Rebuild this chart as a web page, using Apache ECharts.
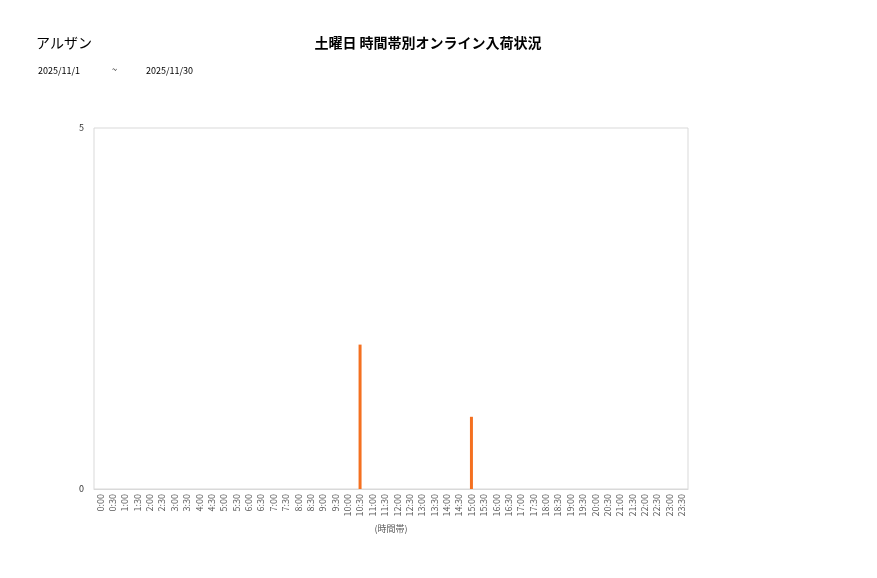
<!DOCTYPE html>
<html><head><meta charset="utf-8">
<script src="https://cdn.jsdelivr.net/npm/echarts@6/dist/echarts.min.js"></script>
<style>html,body{margin:0;padding:0;background:#fff}#c{width:877px;height:578px}</style>
</head><body><div id="c"></div>
<script>
const storeName = 'アルザン';
const chartTitle = '土曜日 時間帯別オンライン入荷状況';
const dateFrom = '2025/11/1';
const dateTo = '2025/11/30';
const categories = [];
for (let h = 0; h < 24; h++) { categories.push(h + ':00'); categories.push(h + ':30'); }
const values = [0,0,0,0,0,0,0,0,0,0,0,0,0,0,0,0,0,0,0,0,0,2,0,0,0,0,0,0,0,0,1,0,0,0,0,0,0,0,0,0,0,0,0,0,0,0,0,0];
const yTicks = [0, 5];

const chart = echarts.init(document.getElementById('c'));
const font = '"Noto Sans CJK JP", "Noto Sans", sans-serif';
chart.setOption({
  animation: false,
  textStyle: { fontFamily: font },
  title: [
    { text: storeName, left: 36, top: 36, padding: 0, textStyle: { fontSize: 14, fontWeight: 'normal', color: '#000', fontFamily: font } },
    { text: chartTitle, left: 428, top: 36, padding: 0, textAlign: 'center', textStyle: { fontSize: 14, fontWeight: 'bold', color: '#000', fontFamily: font } },
    { text: dateFrom, left: 38, top: 66, padding: 0, textStyle: { fontSize: 9, fontWeight: 'normal', color: '#000', fontFamily: font } },
    { text: '~', left: 112, top: 65, padding: 0, textStyle: { fontSize: 9, fontWeight: 'normal', color: '#000', fontFamily: font } },
    { text: dateTo, left: 146, top: 66, padding: 0, textStyle: { fontSize: 9, fontWeight: 'normal', color: '#000', fontFamily: font } }
  ],
  grid: { left: 94, right: 189, top: 128, bottom: 89, show: true, borderColor: '#d9d9d9', borderWidth: 1 },
  xAxis: {
    type: 'category', data: categories,
    name: '(時間帯)', nameLocation: 'middle', nameGap: 35,
    nameTextStyle: { fontSize: 9, color: '#595959' },
    axisLine: { lineStyle: { color: '#d9d9d9' } },
    axisTick: { show: false },
    axisLabel: { rotate: 90, interval: 0, fontSize: 9, color: '#595959', margin: 5 }
  },
  yAxis: {
    type: 'value', min: yTicks[0], max: yTicks[1], interval: yTicks[1] - yTicks[0],
    axisLine: { show: false }, axisTick: { show: false },
    splitLine: { show: false },
    axisLabel: { fontSize: 9, color: '#333', margin: 10 }
  },
  series: [{
    type: 'bar', data: values, barWidth: 3,
    itemStyle: { color: '#f47020' }
  }]
});
</script></body></html>
